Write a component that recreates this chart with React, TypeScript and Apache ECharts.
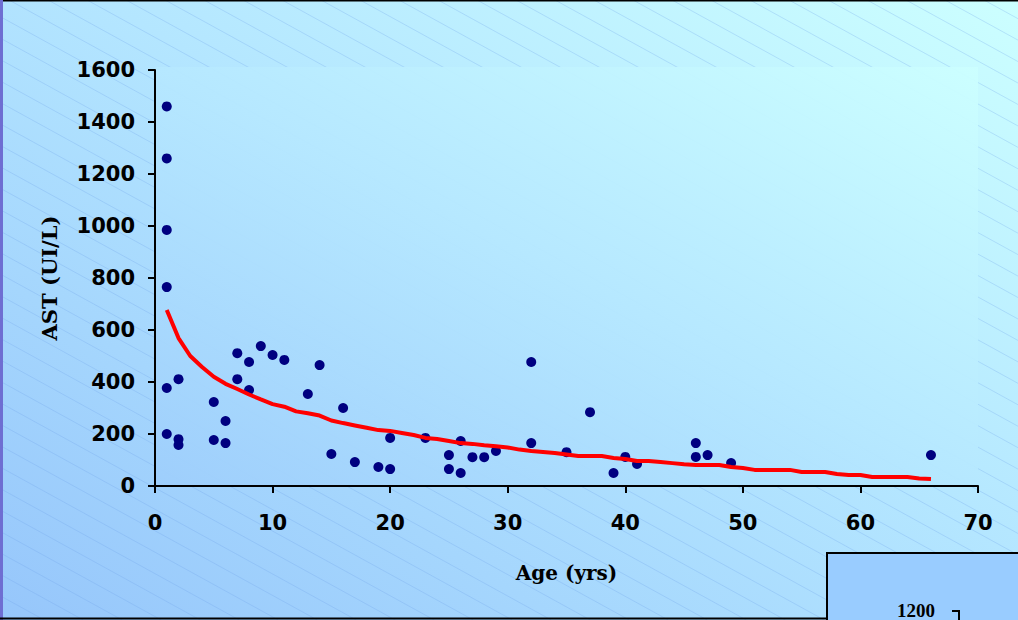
import React, { useEffect, useRef } from "react";
import * as echarts from "echarts";

// Observed points (age in years, AST in UI/L)
const pointAges = [
  1, 1, 1, 1, 1, 1, 2, 2, 2, 5, 5, 6, 6, 7, 7, 8, 8, 9, 10, 11, 13, 14, 15, 16, 17, 19, 20, 20,
  23, 25, 25, 26, 26, 27, 28, 29, 32, 32, 35, 37, 39, 40, 41, 46, 46, 47, 49, 66,
];
const pointAst = [
  1460, 1260, 985, 765, 377, 200, 411, 180, 158, 323, 177, 250, 165, 511, 411, 477, 369, 538, 504, 485, 354, 465, 123, 300, 92, 73, 185, 65,
  185, 119, 65, 173, 50, 111, 111, 135, 477, 165, 130, 284, 50, 112, 85, 165, 112, 119, 88, 119,
];

// Trend line
const trendAges = [
  1, 2, 3, 4, 5, 6, 7, 8, 9, 10, 11, 12, 13, 14, 15, 16, 17, 18, 19, 20, 21, 22, 23, 24, 25, 26, 27, 28, 29, 30, 31, 32, 33,
  34, 35, 36, 37, 38, 39, 40, 41, 42, 43, 44, 45, 46, 47, 48, 49, 50, 51, 52, 53, 54, 55, 56, 57, 58, 59, 60, 61, 62, 63, 64, 65, 66,
];
const trendAst = [
  677, 569, 500, 458, 420, 393, 373, 352, 333, 315, 305, 287, 280, 271, 252, 242, 233, 224, 215, 212, 204, 196, 185, 181, 173, 165, 162, 157, 153, 148, 140, 135, 131,
  127, 121, 115, 115, 115, 108, 104, 96, 96, 92, 88, 84, 81, 81, 81, 73, 69, 62, 62, 62, 62, 54, 54, 54, 46, 42, 42, 35, 35, 35, 35, 29, 27,
];

const xTicks = { min: 0, max: 70, interval: 10 };
const yTicks = { min: 0, max: 1600, interval: 200 };

const W = 1018;
const H = 620;
const PLOT = { left: 155, top: 70, right: 978, bottom: 486 };

function makeGradient() {
  return new echarts.graphic.LinearGradient(0, 1, 1, 0, [
    { offset: 0, color: "#96c6fb" },
    { offset: 0.55, color: "#b4e6ff" },
    { offset: 1, color: "#ccffff" },
  ]);
}

export default function App() {
  const ref = useRef<HTMLDivElement>(null);

  useEffect(() => {
    if (!ref.current) return;
    const chart = echarts.init(ref.current, undefined, { renderer: "svg", width: W, height: H });

    const hatch: any[] = [];
    const slope = 0.55;
    for (let x0 = -1200; x0 < W + 40; x0 += 39) {
      hatch.push({
        type: "line",
        z: -9,
        silent: true,
        shape: { x1: x0, y1: 0, x2: x0 + H / slope, y2: H },
        style: { stroke: "rgba(110,160,235,0.28)", lineWidth: 1 },
      });
    }

    const option: any = {
      animation: false,
      grid: {
        left: PLOT.left,
        top: PLOT.top,
        width: PLOT.right - PLOT.left,
        height: PLOT.bottom - PLOT.top,
        containLabel: false,
      },
      graphic: [
        {
          type: "rect",
          z: -10,
          silent: true,
          shape: { x: 0, y: 0, width: W, height: H },
          style: { fill: makeGradient() },
        },
        ...hatch,
        {
          type: "rect",
          z: -8,
          silent: true,
          shape: { x: PLOT.left, y: 67, width: PLOT.right - PLOT.left, height: PLOT.bottom - 67 },
          style: {
            fill: new echarts.graphic.LinearGradient(0, 1, 1, 0, [
              { offset: 0, color: "rgba(158,206,252,0.94)" },
              { offset: 0.5, color: "rgba(182,232,255,0.94)" },
              { offset: 1, color: "rgba(204,255,255,0.95)" },
            ]),
          },
        },
        {
          type: "line",
          z: 50,
          silent: true,
          shape: { x1: 0, y1: 0.5, x2: W, y2: 0.5 },
          style: { stroke: "#000", lineWidth: 2 },
        },
        {
          type: "line",
          z: 50,
          silent: true,
          shape: { x1: 1.5, y1: 0, x2: 1.5, y2: H },
          style: { stroke: "#6e6ed2", lineWidth: 3 },
        },
        {
          type: "line",
          z: 50,
          silent: true,
          shape: { x1: 0, y1: 618.5, x2: 827, y2: 618.5 },
          style: { stroke: "#000", lineWidth: 2 },
        },
        {
          type: "rect",
          z: 50,
          silent: true,
          shape: { x: 827, y: 553, width: 200, height: 80 },
          style: { fill: "#99ccff", stroke: "#000", lineWidth: 2 },
        },
        {
          type: "text",
          z: 51,
          silent: true,
          x: 916,
          y: 601,
          style: {
            text: "1200",
            fill: "#000",
            fontFamily: "Liberation Serif",
            fontWeight: "bold",
            fontSize: 19,
            align: "center",
            verticalAlign: "top",
          },
        },
        {
          type: "polyline",
          z: 51,
          silent: true,
          shape: { points: [[952, 611], [959, 611], [959, 621]] },
          style: { stroke: "#000", lineWidth: 2, fill: "none" },
        },
      ],
      xAxis: {
        type: "value",
        min: xTicks.min,
        max: xTicks.max,
        interval: xTicks.interval,
        name: "Age (yrs)",
        nameLocation: "middle",
        nameGap: 77,
        nameTextStyle: {
          fontFamily: "'DejaVu Serif', serif",
          fontWeight: "bold",
          fontSize: 20,
          color: "#000",
          verticalAlign: "top",
        },
        axisLine: { show: true, onZero: false, lineStyle: { color: "#000", width: 2 } },
        axisTick: { show: true, inside: false, length: 7, lineStyle: { color: "#000", width: 2 } },
        axisLabel: {
          margin: 26,
          fontFamily: "'DejaVu Sans', sans-serif",
          fontWeight: "bold",
          fontSize: 21,
          color: "#000",
          formatter: (v: number) => String(v),
        },
        splitLine: { show: false },
      },
      yAxis: {
        type: "value",
        min: yTicks.min,
        max: yTicks.max,
        interval: yTicks.interval,
        name: "AST (UI/L)",
        nameLocation: "middle",
        nameGap: 95,
        nameTextStyle: {
          fontFamily: "'DejaVu Serif', serif",
          fontWeight: "bold",
          fontSize: 21,
          color: "#000",
        },
        axisLine: { show: true, onZero: false, lineStyle: { color: "#000", width: 2 } },
        axisTick: { show: true, inside: false, length: 7, lineStyle: { color: "#000", width: 2 } },
        axisLabel: {
          margin: 20,
          fontFamily: "'DejaVu Sans', sans-serif",
          fontWeight: "bold",
          fontSize: 21,
          color: "#000",
          formatter: (v: number) => String(v),
        },
        splitLine: { show: false },
      },
      series: [
        {
          name: "AST",
          type: "scatter",
          symbol: "circle",
          symbolSize: 10,
          itemStyle: { color: "#000080", opacity: 1 },
          data: pointAges.map((a, i) => [a, pointAst[i]]),
          z: 3,
        },
        {
          name: "Trend",
          type: "line",
          showSymbol: false,
          symbol: "none",
          smooth: false,
          lineStyle: { color: "#ff0000", width: 4 },
          data: trendAges.map((a, i) => [a, trendAst[i]]),
          z: 4,
        },
      ],
    };

    chart.setOption(option);
    return () => chart.dispose();
  }, []);

  return (
    <div
      ref={ref}
      style={{ width: W, height: H, position: "absolute", left: 0, top: 0 }}
    />
  );
}
